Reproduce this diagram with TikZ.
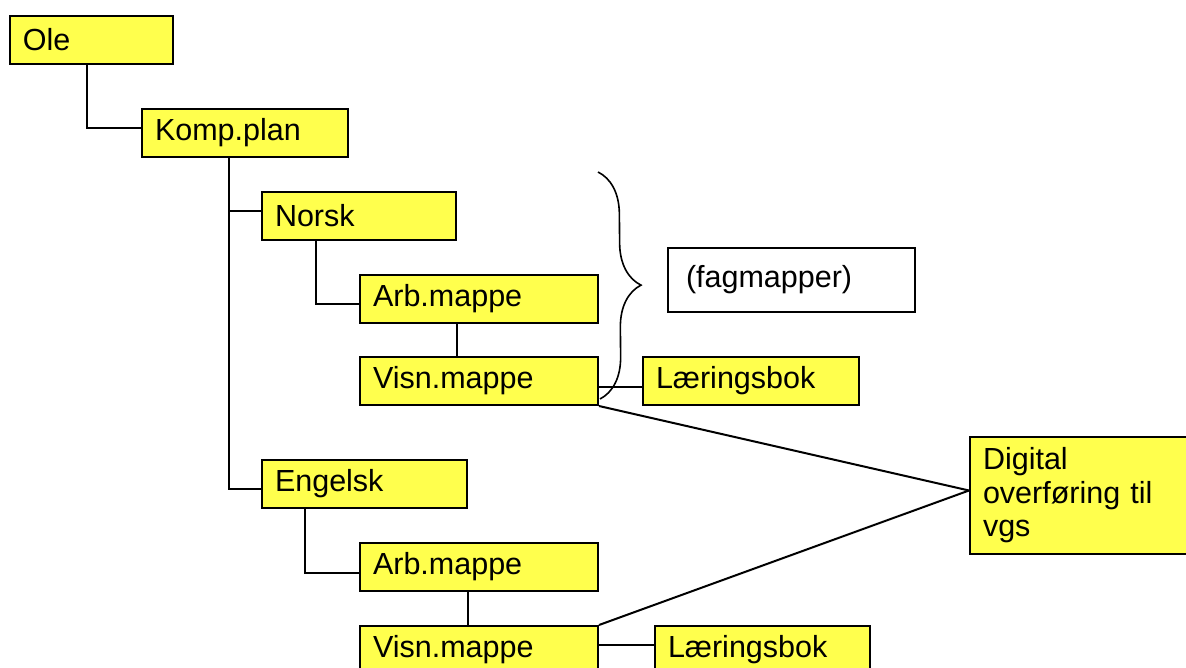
\documentclass[tikz,border=0pt]{standalone}
\usepackage{fontspec}
\setmainfont{Liberation Sans}
\usepackage{xcolor}
\usetikzlibrary{decorations.pathreplacing}
\definecolor{boxyellow}{RGB}{255,255,77}
\tikzset{
    folder/.style = {
        draw,
        fill = boxyellow,
        line width = 2pt,
        inner xsep = 13pt,
        minimum height = 48pt,
        align = left,
        text width = #1,
        font = \fontsize{30.5}{33.5}\selectfont,
    },
    link/.style = {
        draw = black,
        line width = 2pt,
    }
}

\begin{document}
\begin{tikzpicture}[x=1pt,y=-1pt]
    \clip (0,0) rectangle (1186,667);

    \node[folder=137pt] (Ole) at (91.5,40) {Ole};
    \node[folder=180pt] (KompPlan) at (245,133) {Komp.plan};

    \node[folder=168pt] (Norsk) at (359,216) {Norsk};
    \node[folder=212pt] (ArbNorsk) at (479,299) {Arb.mappe};
    \node[folder=212pt] (VisnNorsk) at (479,381) {Visn.mappe};
    \node[folder=190pt] (BokNorsk) at (751,381) {Læringsbok};

    \node[folder=211pt,fill=white,inner xsep=18pt,minimum height=64pt] (Fag) at (791.5,280) {(fagmapper)};

    \node[folder=179pt] (Engelsk) at (364.5,484) {Engelsk};
    \node[folder=212pt] (ArbEngelsk) at (479,567) {Arb.mappe};
    \node[folder=212pt] (VisnEngelsk) at (479,650) {Visn.mappe};
    \node[folder=189pt] (BokEngelsk) at (762.5,650) {Læringsbok};

    \node[folder=198pt,minimum height=117pt] (Digital) at (1082,495.5) {Digital\\overføring til\\vgs};

    \draw[link] ([xshift=-4.5pt]Ole.south) |- ([yshift=5pt]KompPlan.west);
    \draw[link] ([xshift=-16pt]KompPlan.south) |- ([yshift=5pt]Norsk.west);
    \draw[link] ([xshift=-16pt]KompPlan.south) |- ([yshift=-5pt]Engelsk.west);

    \draw[link] ([xshift=-43pt]Norsk.south) |- ([yshift=-5pt]ArbNorsk.west);
    \draw[link] ([xshift=-22pt]ArbNorsk.south) -- ([xshift=-22pt]VisnNorsk.north);
    \draw[link] ([yshift=-6pt]VisnNorsk.east) -- ([yshift=-6pt]BokNorsk.west);

    \draw[link] ([xshift=-59.5pt]Engelsk.south) |- ([yshift=-5.5pt]ArbEngelsk.west);
    \draw[link] ([xshift=-11pt]ArbEngelsk.south) -- ([xshift=-11pt]VisnEngelsk.north);
    \draw[link] ([yshift=5pt]VisnEngelsk.east) -- ([yshift=5pt]BokEngelsk.west);

    \draw[link] (VisnNorsk.south east) -- ([yshift=5pt]Digital.west);
    \draw[link] (VisnEngelsk.north east) -- ([yshift=5pt]Digital.west);

    % brace round the subject folders
    \draw[link,line width=1.6pt,decorate,decoration={brace,amplitude=42pt}] (598,172) -- (600,399);
\end{tikzpicture}
\end{document}
